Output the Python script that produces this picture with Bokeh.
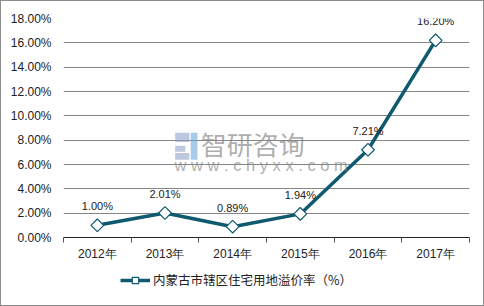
import math
from bokeh.plotting import figure
from bokeh.layouts import column
from bokeh.models import FixedTicker, Legend, LegendItem, Label, ColumnDataSource, Range1d
from bokeh.core.properties import value
from bokeh.embed import file_html
from bokeh.resources import INLINE

years = ["2012年", "2013年", "2014年", "2015年", "2016年", "2017年"]
values = [1.00, 2.01, 0.89, 1.94, 7.21, 16.20]
value_labels = ["1.00%", "2.01%", "0.89%", "1.94%", "7.21%", "16.20%"]
y_ticks = [0, 2, 4, 6, 8, 10, 12, 14, 16, 18]
series_name = "内蒙古市辖区住宅用地溢价率（%）"

xs = [i + 0.5 for i in range(len(years))]
src = ColumnDataSource(dict(x=xs, y=values, lab=value_labels))

color = "#0f5a6e"
FONT = "Liberation Sans"
CJK = "Noto Sans CJK SC"
BORDER = "1px solid #8c8c8c"

p = figure(width=484, height=262, output_backend="svg", toolbar_location=None,
           x_range=(0, len(years)), y_range=(0, 18),
           min_border_left=62, min_border_right=16, min_border_top=17, min_border_bottom=25)
p.styles = {"border-top": BORDER, "border-left": BORDER, "border-right": BORDER, "box-sizing": "border-box"}
p.outline_line_color = None
p.background_fill_color = "white"

# grid
p.xgrid.grid_line_color = None
p.ygrid.grid_line_color = "#868686"
p.ygrid.grid_line_width = 1
p.ygrid.ticker = FixedTicker(ticks=y_ticks)

# y axis
p.yaxis.ticker = FixedTicker(ticks=y_ticks)
p.yaxis.major_label_overrides = {t: f"{t:.2f}%" for t in y_ticks}
p.yaxis.axis_line_color = None
p.yaxis.major_tick_line_color = None
p.yaxis.minor_tick_line_color = None
p.yaxis.major_label_text_font = FONT
p.yaxis.major_label_text_font_size = "12px"
p.yaxis.major_label_text_color = "#222222"
p.yaxis.major_label_standoff = 6

# x axis
p.xaxis.ticker = FixedTicker(ticks=xs, minor_ticks=list(range(len(years) + 1)))
p.xaxis.major_label_overrides = {x: y for x, y in zip(xs, years)}
p.xaxis.axis_line_color = "#222222"
p.xaxis.axis_line_width = 1
p.xaxis.major_tick_line_color = None
p.xaxis.minor_tick_line_color = "#555555"
p.xaxis.minor_tick_in = 0
p.xaxis.minor_tick_out = 5
p.xaxis.major_label_text_font = FONT
p.xaxis.major_label_text_font_size = "12px"
p.xaxis.major_label_text_color = "#222222"
p.xaxis.major_label_standoff = 3

# watermark
p.quad(left=[1.65, 1.65, 1.65], right=[1.86, 1.80, 1.86], bottom=[7.85, 7.05, 6.4], top=[8.6, 7.55, 6.95],
       fill_color="#8fa3c9", line_color=None, alpha=0.6)
p.quad(left=[1.88], right=[1.98], bottom=[6.4], top=[8.6], fill_color="#6fa8dc", line_color=None, alpha=0.6)
p.add_layout(Label(x=2.03, y=7.75, text="智研咨询", text_font=CJK,
                   text_font_size="26px", text_color="#8a8a8a", text_alpha=0.7,
                   text_baseline="middle"))
p.add_layout(Label(x=1.64, y=5.97, text="w w w . c h y x x . c o m", text_font=FONT,
                   text_font_size="16.5px", text_color="#8a8a8a", text_alpha=0.7,
                   text_baseline="middle"))

p.line("x", "y", source=src, line_color=color, line_width=3.5)
p.scatter("x", "y", source=src, marker="square", size=9, angle=math.pi / 4,
          fill_color="white", line_color=color, line_width=1.2)
p.text("x", "y", text="lab", source=src, text_align="center", text_baseline="bottom",
       y_offset=-13, text_font_size="11px", text_font=value(FONT), text_color="#222222")

# legend strip below the chart
lf = figure(width=484, height=44, output_backend="svg", toolbar_location=None,
            x_range=Range1d(0, 1), y_range=Range1d(0, 1),
            min_border_left=0, min_border_right=0, min_border_top=0, min_border_bottom=0)
lf.styles = {"border-bottom": BORDER, "border-left": BORDER, "border-right": BORDER, "box-sizing": "border-box"}
lf.axis.visible = False
lf.grid.visible = False
lf.outline_line_color = None
hidden_x = [-5, -4]
hidden_y = [-5, -5]
l_line = lf.line(x=hidden_x, y=hidden_y, line_color=color, line_width=3.5)
l_pts = lf.scatter(x=hidden_x, y=hidden_y, marker="square", size=9, angle=math.pi / 4,
                   fill_color="white", line_color=color, line_width=1.2)
legend = Legend(items=[LegendItem(label=series_name, renderers=[l_line, l_pts])],
                location=(57, 17), orientation="horizontal",
                glyph_width=30, glyph_height=16, label_standoff=3, padding=0, margin=0,
                border_line_color=None, background_fill_alpha=0,
                label_text_font=CJK, label_text_font_size="12.5px",
                label_text_color="#222222")
lf.add_layout(legend, "center")

layout = column(p, lf, spacing=0)
open("out.html", "w").write(file_html(layout, INLINE))
